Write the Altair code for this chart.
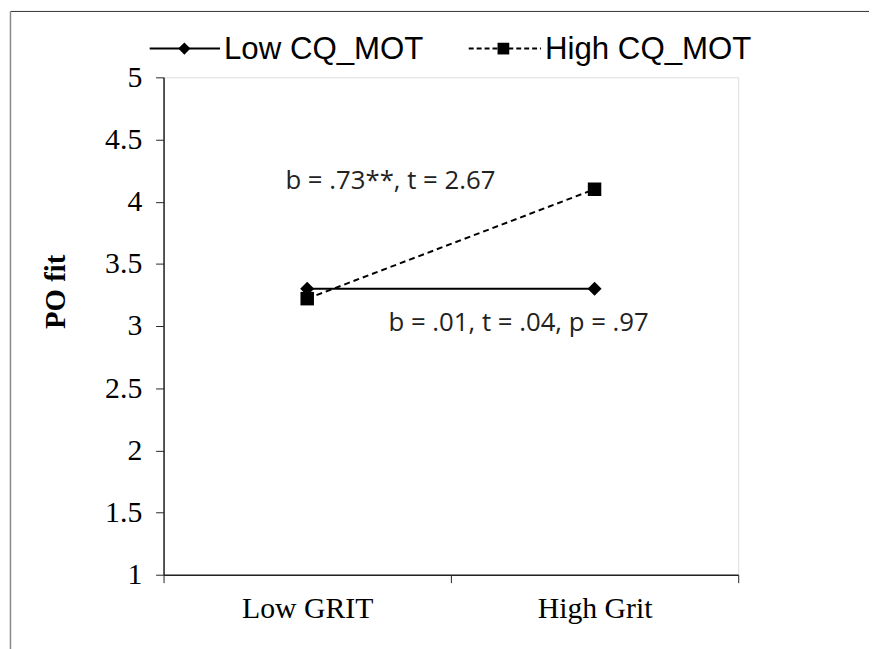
import altair as alt
import pandas as pd

categories = ["Low GRIT", "High Grit"]
series = ["Low CQ_MOT", "High CQ_MOT"]
low_vals = [3.30, 3.30]
high_vals = [3.22, 4.10]
y_ticks = [1, 1.5, 2, 2.5, 3, 3.5, 4, 4.5, 5]
annot_high = "b = .73**, t = 2.67"
annot_low = "b = .01, t = .04, p = .97"

rows = []
for s, vals in zip(series, [low_vals, high_vals]):
    for i, (c, v) in enumerate(zip(categories, vals)):
        rows.append({"series": s, "category": c, "pos": i + 0.5, "value": v})
df = pd.DataFrame(rows)

W, H = 580, 502
PL, PT = 157, 67

xscale = alt.Scale(domain=[0, len(categories)], nice=False, zero=False)
yscale = alt.Scale(domain=[1, 5], nice=False, zero=False)

label_expr = " : ".join(
    [f"datum.value == {i} ? '{c}'" for i, c in enumerate(categories)]
) + " : ''"

x_enc = alt.X(
    "pos:Q", scale=xscale,
    axis=alt.Axis(
        values=list(range(len(categories) + 1)), labelExpr=label_expr,
        labelOffset=W / len(categories) / 2, title=None, grid=False,
        tickSize=8, tickColor="#222", domainColor="#222", domainWidth=1.5,
        labelFont="Liberation Serif", labelFontSize=30, labelColor="#000",
        labelPadding=11, labelBaseline="top", labelFlush=False, labelOverlap=False,
    ),
)
y_enc = alt.Y(
    "value:Q", scale=yscale,
    axis=alt.Axis(
        values=y_ticks, format="~g", title="PO fit", grid=False,
        tickSize=8, tickColor="#222", domainColor="#222", domainWidth=1.5,
        labelFont="Liberation Serif", labelFontSize=30, labelColor="#000",
        labelPadding=14, labelFlush=False,
        titleFont="Liberation Serif", titleFontSize=29, titleFontWeight="bold",
        titleColor="#000", titleAngle=270, titleX=-109, titleY=216,
        titleAlign="center", titleBaseline="middle",
    ),
)

base = alt.Chart(df)

low_line = base.transform_filter(alt.datum.series == series[0]).mark_line(
    color="black", strokeWidth=2).encode(x=x_enc, y=y_enc)
low_pts = base.transform_filter(alt.datum.series == series[0]).mark_point(
    shape="diamond", filled=True, color="black", size=200, opacity=1).encode(x=x_enc, y=y_enc)
high_line = base.transform_filter(alt.datum.series == series[1]).mark_line(
    color="black", strokeWidth=2, strokeDash=[6, 4]).encode(x=x_enc, y=y_enc)
high_pts = base.transform_filter(alt.datum.series == series[1]).mark_point(
    shape="square", filled=True, color="black", size=185, opacity=1).encode(x=x_enc, y=y_enc)

# annotations
ann1 = alt.Chart(pd.DataFrame({"t": [annot_high]})).mark_text(
    align="left", baseline="middle", font="Open Sans", fontSize=26, color="#222"
).encode(text="t:N", x=alt.value(288 - 165), y=alt.value(180 - 75))
ann2 = alt.Chart(pd.DataFrame({"t": [annot_low]})).mark_text(
    align="left", baseline="middle", font="Open Sans", fontSize=26, color="#222"
).encode(text="t:N", x=alt.value(392 - 165), y=alt.value(323 - 75))

# manual legend
LY = 46 - 75
leg_df = pd.DataFrame({"s": series})
leg_line1 = alt.Chart(leg_df).transform_filter(alt.datum.s == series[0]).mark_rule(
    color="black", strokeWidth=2).encode(x=alt.value(151 - 165), x2=alt.value(222 - 165), y=alt.value(LY))
leg_pt1 = alt.Chart(leg_df).transform_filter(alt.datum.s == series[0]).mark_point(
    shape="diamond", filled=True, color="black", size=150, opacity=1).encode(x=alt.value(186 - 165), y=alt.value(LY))
leg_txt1 = alt.Chart(leg_df).transform_filter(alt.datum.s == series[0]).mark_text(
    align="left", baseline="middle", font="Liberation Sans", fontSize=31.5, color="#000").encode(
    text="s:N", x=alt.value(226 - 165), y=alt.value(LY + 1))
leg_line2 = alt.Chart(leg_df).transform_filter(alt.datum.s == series[1]).mark_rule(
    color="black", strokeWidth=2, strokeDash=[5, 3]).encode(x=alt.value(473 - 165), x2=alt.value(546 - 165), y=alt.value(LY))
leg_pt2 = alt.Chart(leg_df).transform_filter(alt.datum.s == series[1]).mark_point(
    shape="square", filled=True, color="black", size=140, opacity=1).encode(x=alt.value(508 - 165), y=alt.value(LY))
leg_txt2 = alt.Chart(leg_df).transform_filter(alt.datum.s == series[1]).mark_text(
    align="left", baseline="middle", font="Liberation Sans", fontSize=31.5, color="#000").encode(
    text="s:N", x=alt.value(550 - 165), y=alt.value(LY + 1))

# outer frame (chart area border)
frame_df = pd.DataFrame({"k": [0]})
frame_top = alt.Chart(frame_df).mark_rule(color="#333", strokeWidth=1).encode(
    x=alt.value(10.5 - 8 - PL), x2=alt.value(880 - 8 - PL), y=alt.value(8.5 - 8 - PT))
frame_left = alt.Chart(frame_df).mark_rule(color="#888", strokeWidth=1.5).encode(
    x=alt.value(10.5 - 8 - PL), y=alt.value(8.5 - 8 - PT), y2=alt.value(660 - 8 - PT))

chart = alt.layer(
    frame_top, frame_left,
    low_line, high_line, low_pts, high_pts,
    ann1, ann2,
    leg_line1, leg_pt1, leg_txt1, leg_line2, leg_pt2, leg_txt2,
).properties(
    width=W, height=H,
    autosize=alt.AutoSizeParams(type="none"),
    padding={"left": PL, "top": PT, "right": 869 - PL - W, "bottom": 641 - PT - H},
).configure_view(
    stroke="#888", strokeWidth=2
).configure(background="white")

chart.save("out.html", embed_options={"renderer": "svg", "actions": False})
